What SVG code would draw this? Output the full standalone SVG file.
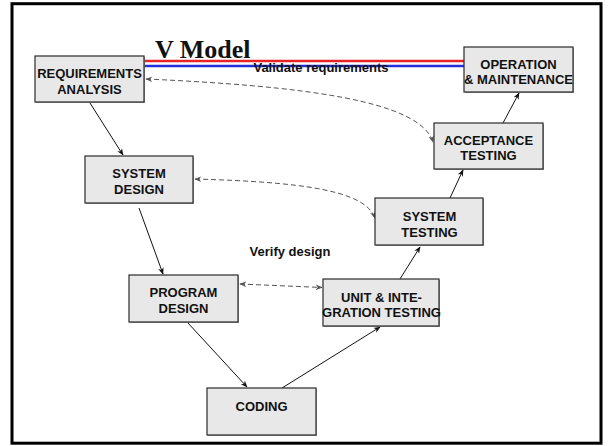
<svg xmlns="http://www.w3.org/2000/svg" width="609" height="446" viewBox="0 0 609 446">
<style>
.box{fill:#e8e8e8;stroke:#2a2a2a;stroke-width:1.2}
.sh{fill:#a0a0a0}
.lbl{font-family:"Liberation Sans",Arial,sans-serif;font-weight:bold;font-size:13px;fill:#111;text-anchor:middle}
.solid{fill:none;stroke:#111;stroke-width:1}
.dash{fill:none;stroke:#555;stroke-width:1;stroke-dasharray:5,3}
</style>
<defs>
<marker id="ah" viewBox="0 0 10 10" refX="9" refY="5" markerWidth="7" markerHeight="7" orient="auto" markerUnits="userSpaceOnUse">
<path d="M0,1 L10,5 L0,9 L3,5 z" fill="#111"/>
</marker>
<marker id="dh" viewBox="0 0 10 10" refX="9" refY="5" markerWidth="7" markerHeight="7" orient="auto-start-reverse" markerUnits="userSpaceOnUse">
<path d="M0,1 L10,5 L0,9 L3,5 z" fill="#555"/>
</marker>
</defs>
<rect x="0" y="0" width="609" height="446" fill="#fff"/>
<rect x="12" y="3.7" width="589" height="439.5" fill="none" stroke="#000" stroke-width="3"/>
<g id="title">
<text x="155" y="58" font-family="'Liberation Serif','Times New Roman',serif" font-weight="bold" font-size="26" fill="#111">V Model</text>
<line x1="144" y1="61" x2="464" y2="61" stroke="#e8242a" stroke-width="2.5"/>
<line x1="144" y1="66" x2="464" y2="66" stroke="#2230d8" stroke-width="2.5"/>
<text class="lbl" x="321" y="72">Validate requirements</text>
<text class="lbl" x="290" y="256">Verify design</text>
</g>
<g id="connectors">
<line class="solid" x1="90" y1="103" x2="123" y2="155" marker-end="url(#ah)"/>
<line class="solid" x1="139" y1="208" x2="163" y2="274" marker-end="url(#ah)"/>
<line class="solid" x1="188" y1="323" x2="247" y2="387" marker-end="url(#ah)"/>
<line class="solid" x1="282" y1="388" x2="380" y2="327" marker-end="url(#ah)"/>
<line class="solid" x1="400" y1="279" x2="420" y2="247" marker-end="url(#ah)"/>
<line class="solid" x1="450" y1="198" x2="463" y2="170" marker-end="url(#ah)"/>
<line class="solid" x1="503" y1="123" x2="519" y2="93" marker-end="url(#ah)"/>
<path class="dash" d="M146,79 C300,86 420,100 433,142" marker-start="url(#dh)" marker-end="url(#dh)"/>
<path class="dash" d="M195,179 C300,182 365,190 375,218" marker-start="url(#dh)" marker-end="url(#dh)"/>
<line class="dash" x1="240" y1="284" x2="322" y2="287.5" marker-start="url(#dh)" marker-end="url(#dh)"/>
</g>
<g id="req">
<rect class="sh" x="36" y="57" width="109" height="46"/>
<rect class="box" x="35" y="56" width="109" height="46"/>
<text class="lbl" x="89.5" y="77.5">REQUIREMENTS</text>
<text class="lbl" x="89.5" y="94">ANALYSIS</text>
</g>
<g id="op">
<rect class="sh" x="465" y="48" width="109" height="45"/>
<rect class="box" x="464" y="47" width="109" height="45"/>
<text class="lbl" x="518.5" y="68.5">OPERATION</text>
<text class="lbl" x="518.5" y="84">&amp; MAINTENANCE</text>
</g>
<g id="acc">
<rect class="sh" x="435" y="124" width="109" height="46"/>
<rect class="box" x="434" y="123" width="109" height="46"/>
<text class="lbl" x="488.5" y="145">ACCEPTANCE</text>
<text class="lbl" x="488.5" y="159.5">TESTING</text>
</g>
<g id="sysdes">
<rect class="sh" x="86" y="157" width="108" height="47"/>
<rect class="box" x="85" y="156" width="108" height="47"/>
<text class="lbl" x="139" y="178">SYSTEM</text>
<text class="lbl" x="139" y="194">DESIGN</text>
</g>
<g id="systest">
<rect class="sh" x="376" y="199" width="108" height="47"/>
<rect class="box" x="375" y="198" width="108" height="47"/>
<text class="lbl" x="429.5" y="221">SYSTEM</text>
<text class="lbl" x="429.5" y="237">TESTING</text>
</g>
<g id="progdes">
<rect class="sh" x="130" y="276" width="109" height="47"/>
<rect class="box" x="129" y="275" width="109" height="47"/>
<text class="lbl" x="183.5" y="296.5">PROGRAM</text>
<text class="lbl" x="183.5" y="312.5">DESIGN</text>
</g>
<g id="unit">
<rect class="sh" x="324" y="280" width="116" height="47"/>
<rect class="box" x="323" y="279" width="116" height="47"/>
<text class="lbl" x="381.5" y="301.5">UNIT &amp; INTE-</text>
<text class="lbl" x="381.5" y="316.5">GRATION TESTING</text>
</g>
<g id="coding">
<rect class="sh" x="208" y="389" width="109" height="47"/>
<rect class="box" x="207" y="388" width="109" height="47"/>
<text class="lbl" x="261.5" y="410.5">CODING</text>
</g>
</svg>
